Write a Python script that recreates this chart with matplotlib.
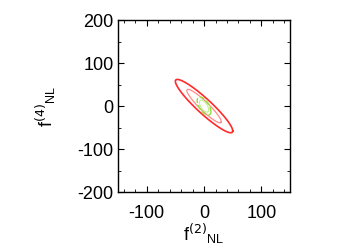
import numpy as np
import matplotlib.pyplot as plt

plt.rcParams['font.family'] = ['Liberation Sans', 'DejaVu Sans']
plt.rcParams['axes.unicode_minus'] = False

# contour ellipses: half-width in f2, half-height in f4, correlation
sx = [50, 30, 12, 8]
sy = [62, 39, 21, 14]
rho = [-0.93, -0.93, -0.6, -0.6]
colors = ['#ff2a2a', '#ff8c8c', '#90e040', '#c0f090']
styles = ['-', '-', '--', '-']
widths = [1.2, 0.9, 1.0, 0.8]

xticks = [-100, 0, 100]
yticks = [-200, -100, 0, 100, 200]

fig = plt.figure(figsize=(3.5, 2.45), dpi=100)
ax = fig.add_axes([0.337, 0.216, 0.492, 0.702])

t = np.linspace(0, 2 * np.pi, 400)
for a, b, r, c, ls, lw in zip(sx, sy, rho, colors, styles, widths):
    x = a * np.cos(t)
    y = b * (r * np.cos(t) - np.sqrt(1 - r**2) * np.sin(t))
    ax.plot(x, y, color=c, ls=ls, lw=lw)

ax.set_xlim(-150, 150)
ax.set_ylim(-200, 200)
ax.set_xticks(xticks)
ax.set_yticks(yticks)
ax.set_xticks(np.arange(-140, 141, 20), minor=True)
ax.set_yticks(np.arange(-150, 151, 50), minor=True)
ax.tick_params(which='both', direction='in', top=True, right=True, labelsize=13)
ax.tick_params(which='major', length=4, width=0.8)
ax.tick_params(which='minor', length=2, width=0.6)
ax.tick_params(axis='y', pad=3)
ax.tick_params(axis='x', pad=9)
for s in ax.spines.values():
    s.set_linewidth(1.0)

ax.set_xlabel('f$^{(2)}$$_{\\mathregular{NL}}$', fontsize=13, labelpad=0)
ax.set_ylabel('f$^{(4)}$$_{\\mathregular{NL}}$', fontsize=13, labelpad=14)

plt.savefig('out.png', dpi=100)
